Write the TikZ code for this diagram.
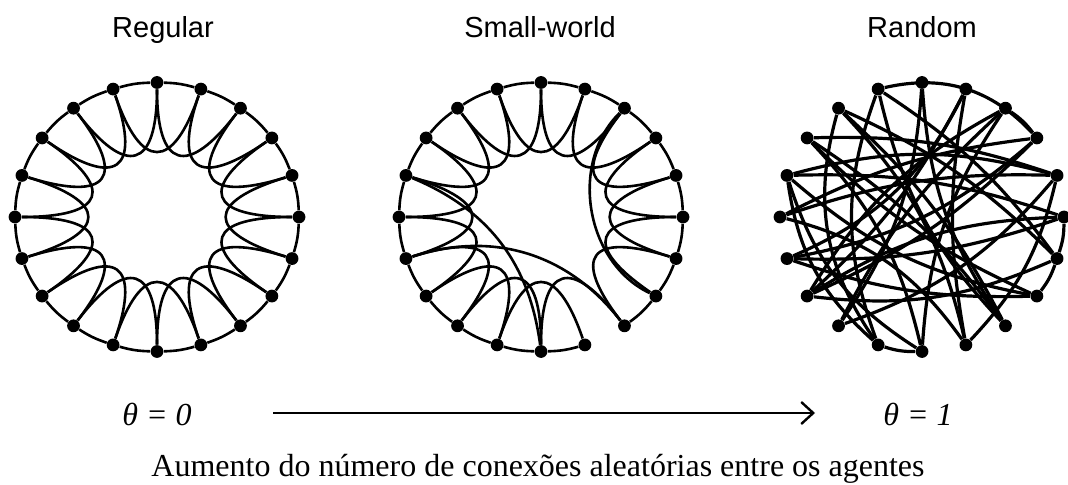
\documentclass[tikz,border=0pt]{standalone}
\usepackage{fontspec}
\setmainfont{Liberation Serif}
\newfontfamily\headfont{Liberation Sans}
\usetikzlibrary{arrows.meta, calc}

\tikzset{
  agent/.style={circle, fill=black, inner sep=0pt, minimum size=6.4pt},
  tie/.style={line width=1.3pt, black},
  rtie/.style={line width=1.6pt, black},
  headtext/.style={font=\headfont\fontsize{14.5}{17}\selectfont, anchor=base},
  captext/.style={font=\fontsize{16}{19}\selectfont, anchor=base},
  thetatext/.style={font=\fontsize{16}{19}\selectfont\itshape, anchor=base},
}

\begin{document}
\begin{tikzpicture}[x=0.5pt, y=0.5pt,
  >={Straight Barb[length=6pt, width=11pt]},
]
\useasboundingbox (0,0) rectangle (1068,-485);

% Titles
\node[headtext] (hReg) at (163,-38) {Regular};
\node[headtext] (hSmall) at (540,-38) {Small-world};
\node[headtext] (hRand) at (922,-38) {Random};

% === Regular ring ===
\begin{scope}[shift={(157,-217)}]
  \coordinate (rc) at (0,0);
  \foreach \k in {0,...,19}
    \node[agent] (r\k) at ({90-18*\k}:142 and 134.5) {};
\end{scope}
\foreach \k in {0,...,19}{
  \pgfmathtruncatemacro{\nxt}{mod(\k+1,20)}
  \pgfmathtruncatemacro{\nnx}{mod(\k+2,20)}
  \draw[tie] (r\k) to[bend left=7] (r\nxt);
  \draw[tie] (r\k) .. controls ($(rc)!0.36!(r\k)$) and ($(rc)!0.36!(r\nnx)$) .. (r\nnx);
}

% === Small-world ring ===
\begin{scope}[shift={(541,-217)}]
  \coordinate (sc) at (0,0);
  \foreach \k in {0,...,19}
    \node[agent] (s\k) at ({90-18*\k}:142 and 134.5) {};
\end{scope}
\foreach \k in {0,...,19}{
  \pgfmathtruncatemacro{\nxt}{mod(\k+1,20)}
  \pgfmathtruncatemacro{\nnx}{mod(\k+2,20)}
  \ifnum\k=8\relax\else
    \draw[tie] (s\k) to[bend left=7] (s\nxt);
  \fi
  \ifnum\k=7\relax\else
    \draw[tie] (s\k) .. controls ($(sc)!0.36!(s\k)$) and ($(sc)!0.36!(s\nnx)$) .. (s\nnx);
  \fi
}
% rewired shortcuts
\draw[tie] (s16) to[bend left=30] (s10);
\draw[tie] (s14) to[bend left=35] (s8);
\draw[tie] (s2) to[bend right=55] (s7);

% === Random graph ===
\begin{scope}[shift={(922,-217)}]
  \foreach \k in {0,...,19}
    \node[agent] (q\k) at ({90-18*\k}:142 and 134.5) {};
\end{scope}
\foreach \a/\b/\bend in {2/3/9, 5/6/9, 6/7/9, 10/11/9,
    0/12/15, 0/8/-15, 1/13/10, 1/9/-10, 1/14/20, 2/12/-10,
    3/19/-30, 3/13/10, 4/15/-10, 4/9/15, 5/14/10, 5/16/-10,
    6/18/-10, 7/17/10, 8/19/15, 9/18/-15, 10/17/-15, 11/16/20,
    12/4/-15, 13/5/15, 14/3/-15, 15/9/20, 16/10/-20, 17/4/10,
    18/11/-25, 15/3/10, 2/13/-15, 7/16/15, 8/17/-10, 19/6/10,
    11/19/20, 14/7/-10, 16/4/15, 13/6/-15, 18/8/10, 10/2/15}
  \draw[rtie] (q\a) to[bend left=\bend] (q\b);

% === Bottom axis ===
\node[thetatext] (th0) at (157,-425) {θ = 0};
\node[thetatext] (th1) at (918,-425) {θ = 1};
\coordinate (arrS) at (273,-413);
\coordinate (arrE) at (815,-413);
\draw[->, line width=1.2pt] (arrS) -- (arrE);
\node[captext] (cap) at (538,-476)
  {Aumento do número de conexões aleatórias entre os agentes};

\end{tikzpicture}
\end{document}
